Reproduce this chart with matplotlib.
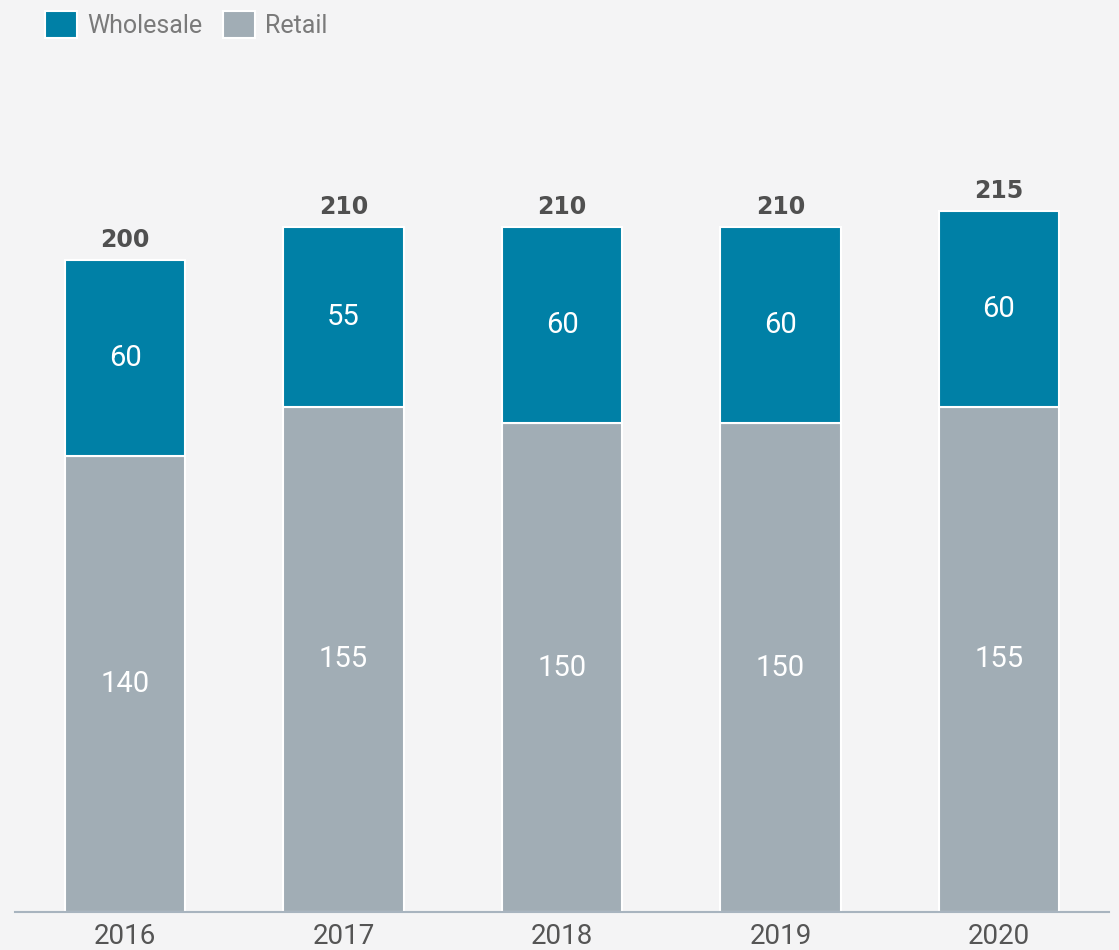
import numpy as np
import matplotlib.pyplot as plt

# data
years = ["2016", "2017", "2018", "2019", "2020"]
retail = [140, 155, 150, 150, 155]
wholesale = [60, 55, 60, 60, 60]
totals = [200, 210, 210, 210, 215]

c_wholesale = "#0080a6"
c_retail = "#a1adb5"
bg = "#f4f4f5"

fig = plt.figure(figsize=(11.19, 9.5), dpi=100, facecolor=bg)
ax = fig.add_axes([0, 38 / 950, 1, 912 / 950])
ax.set_facecolor(bg)

x = np.arange(len(years))
w = 0.55
b1 = ax.bar(x, retail, w, color=c_retail, edgecolor="white", linewidth=1.5, label="Retail")
b2 = ax.bar(x, wholesale, w, bottom=retail, color=c_wholesale, edgecolor="white",
            linewidth=1.5, label="Wholesale")

fam = ["Roboto", "DejaVu Sans"]
for i in range(len(years)):
    ax.text(x[i], retail[i] / 2, str(retail[i]), ha="center", va="center",
            color="white", fontsize=21, family=fam)
    ax.text(x[i], retail[i] + wholesale[i] / 2, str(wholesale[i]), ha="center",
            va="center", color="white", fontsize=21, family=fam)
    ax.text(x[i], retail[i] + wholesale[i] + 2.5, str(totals[i]), ha="center",
            va="bottom", color="#505050", fontsize=17, fontweight="bold")
    ax.text(x[i], -7.5, years[i], ha="center", va="center", color="#555555",
            fontsize=20, family=fam)

ax.set_xlim(-125 / 218.5, (1119 - 125) / 218.5)
ax.set_ylim(0, 912 / 3.26)
ax.axhline(0, xmin=15 / 1119, xmax=1109 / 1119, color="#a8b4bf", linewidth=1.5,
           clip_on=False)
for s in ax.spines.values():
    s.set_visible(False)
ax.set_xticks([])
ax.set_yticks([])

leg = fig.legend(handles=[b2, b1], labels=["Wholesale", "Retail"], loc="upper left",
                 bbox_to_anchor=(0.02, 1.012), ncol=2, frameon=False,
                 handlelength=1.3, handleheight=1.3, handletextpad=0.4,
                 columnspacing=0.8, prop=dict(family=fam, size=18))
for t in leg.get_texts():
    t.set_color("#7a7a7a")

fig.savefig("out.png", dpi=100, facecolor=bg)
